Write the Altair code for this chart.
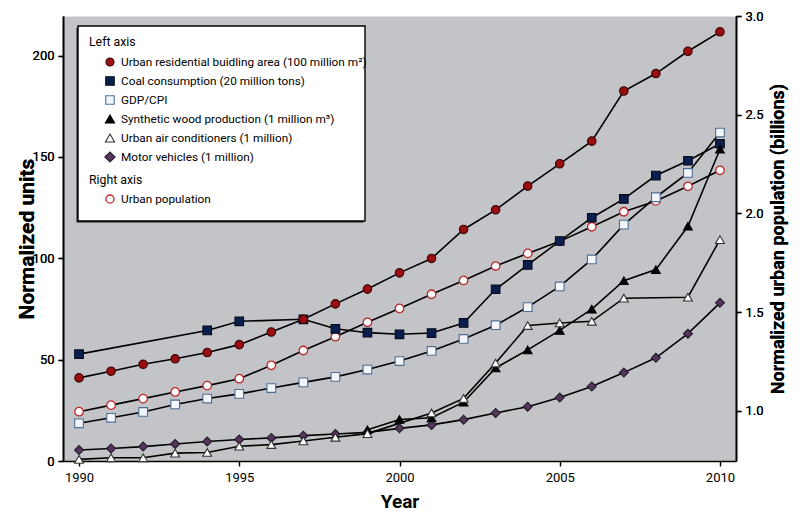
import altair as alt
import pandas as pd

# ---------------- data ----------------
years = list(range(1990, 2011))

building_area = [41.0, 44.3, 47.7, 50.4, 53.5, 57.4, 63.6, 69.9, 77.5, 84.8, 92.8,
                 99.9, 114.2, 123.9, 135.6, 146.6, 157.8, 182.5, 191.1, 202.1, 211.7]
coal = [52.7, None, None, None, 64.4, 68.9, None, 69.9, 65.2, 63.3, 62.5,
        63.1, 68.1, 84.7, 96.7, 108.5, 120.0, 129.3, 140.8, 148.1, 156.5]
gdp_cpi = [18.6, 21.3, 24.2, 27.9, 30.8, 33.1, 36.0, 38.8, 41.5, 45.1, 49.3,
           54.3, 60.2, 67.0, 75.9, 86.1, 99.4, 116.6, 130.1, 142.1, 162.0]
synthetic_wood = [None, None, None, None, None, None, None, None, None, 15.4, 20.5,
                  21.3, 29.0, 45.9, 54.8, 64.4, 74.9, 88.9, 94.4, 115.8, 153.8]
air_conditioners = [0.8, 1.6, 1.6, 3.9, 4.2, 7.3, 8.1, 9.9, 11.7, 13.5, None,
                    23.7, 30.9, 48.3, 66.8, 68.1, 68.9, 80.3, None, 80.8, 109.2]
motor_vehicles = [5.4, 6.2, 7.1, 8.4, 9.6, 10.6, 11.4, 12.5, 13.3, 14.1, 16.1,
                  17.8, 20.4, 23.7, 26.8, 31.3, 36.8, 43.6, 50.9, 62.8, 78.0]
urban_population = [0.995, 1.028, 1.061, 1.095, 1.127, 1.162, 1.230, 1.305, 1.375, 1.448, 1.518,
                    1.590, 1.660, 1.733, 1.797, 1.858, 1.932, 2.008, 2.063, 2.137, 2.218]

left_labels = [
    "Urban residential buidling area (100 million m\u00b2)",
    "Coal consumption (20 million tons)",
    "GDP/CPI",
    "Synthetic wood production (1 million m\u00b3)",
    "Urban air conditioners (1 million)",
    "Motor vehicles (1 million)",
]
right_label = "Urban population"
legend_headers = ["Left axis", "Right axis"]

left_ticks = [0, 50, 100, 150, 200]
right_ticks = [1.0, 1.5, 2.0, 2.5, 3.0]
x_ticks = [1990, 1995, 2000, 2005, 2010]

# ---------------- styles ----------------
FONT = "Roboto"
W, H = 673, 445

styles = {
    left_labels[0]: dict(shape="circle", fill="#9a0d12", stroke="#3b0406", size=72),
    left_labels[1]: dict(shape="square", fill="#0b1f4f", stroke="#050a1a", size=80),
    left_labels[2]: dict(shape="square", fill="#f2f6fb", stroke="#4f6f92", size=80),
    left_labels[3]: dict(shape="triangle-up", fill="#000000", stroke="#000000", size=95),
    left_labels[4]: dict(shape="triangle-up", fill="#ffffff", stroke="#333333", size=95),
    left_labels[5]: dict(shape="diamond", fill="#53365a", stroke="#26172a", size=115),
}
pop_style = dict(shape="circle", fill="#ffffff", stroke="#c3262d", size=72)

series_values = [building_area, coal, gdp_cpi, synthetic_wood, air_conditioners, motor_vehicles]
rows = []
for name, vals in zip(left_labels, series_values):
    for yr, v in zip(years, vals):
        if v is not None:
            rows.append({"year": yr, "value": v, "series": name})
left_df = pd.DataFrame(rows)

# draw order of the markers (later drawn on top)
point_order = [left_labels[1], left_labels[0], left_labels[5], left_labels[3], left_labels[4], left_labels[2]]
left_pts = pd.concat([left_df[left_df.series == s] for s in point_order], ignore_index=True)

right_df = pd.DataFrame({"year": years, "pop": urban_population})

x_enc = alt.X("year:Q", scale=alt.Scale(domain=[1989.5, 2010.5], nice=False, zero=False),
              axis=alt.Axis(values=x_ticks, format="d", title="Year", labelFlush=False,
                            titlePadding=8, labelPadding=5))

y_left_scale = alt.Scale(domain=[0, 219.5], nice=False)
y_left_axis = alt.Axis(orient="left", values=left_ticks, format="d", title="Normalized units",
                       titleX=-30, titleY=H / 2, titleAngle=270, titleBaseline="alphabetic",
                       titleFontSize=21)
y_right_scale = alt.Scale(domain=[0.745, 3.0], nice=False, zero=False)
y_right_axis = alt.Axis(orient="right", values=right_ticks, format=".1f",
                        title="Normalized urban population (billions)",
                        titleX=47, titleY=H / 2, titleAngle=270, titleBaseline="alphabetic",
                        titleFontSize=18)

left_lines = alt.Chart(left_df).mark_line(color="black", strokeWidth=1.6).encode(
    x=x_enc,
    y=alt.Y("value:Q", scale=y_left_scale, axis=y_left_axis),
    detail="series:N",
)

right_line = alt.Chart(right_df).mark_line(color="black", strokeWidth=1.6).encode(
    x=x_enc,
    y=alt.Y("pop:Q", scale=y_right_scale, axis=y_right_axis),
)
right_pts = alt.Chart(right_df).mark_point(
    filled=True, opacity=1, strokeWidth=1.3, **pop_style
).encode(
    x=x_enc,
    y=alt.Y("pop:Q", scale=y_right_scale, axis=y_right_axis),
)

left_points = alt.Chart(left_pts).mark_point(filled=True, opacity=1, strokeWidth=1.1).encode(
    x=x_enc,
    y=alt.Y("value:Q", scale=y_left_scale, axis=y_left_axis),
    shape=alt.Shape("series:N", scale=alt.Scale(domain=left_labels,
                    range=[styles[s]["shape"] for s in left_labels]), legend=None),
    fill=alt.Fill("series:N", scale=alt.Scale(domain=left_labels,
                  range=[styles[s]["fill"] for s in left_labels]), legend=None),
    stroke=alt.Stroke("series:N", scale=alt.Scale(domain=left_labels,
                      range=[styles[s]["stroke"] for s in left_labels]), legend=None),
    size=alt.Size("series:N", scale=alt.Scale(domain=left_labels,
                  range=[styles[s]["size"] for s in left_labels]), legend=None),
)

# ---------------- custom legend (pixel positions inside the plot area) ----------------
dummy = pd.DataFrame({"k": [0]})
legend_layers = []
box_x1, box_x2, box_y1, box_y2 = 15, 302, 10, 205
legend_layers.append(
    alt.Chart(dummy).mark_rect(fill="#222222").encode(
        x=alt.value(box_x1 - 1.5), x2=alt.value(box_x2 - 1.5),
        y=alt.value(box_y1 + 1.5), y2=alt.value(box_y2 + 1.5))
)
legend_layers.append(
    alt.Chart(dummy).mark_rect(fill="white", stroke="black", strokeWidth=1.4).encode(
        x=alt.value(box_x1), x2=alt.value(box_x2), y=alt.value(box_y1), y2=alt.value(box_y2))
)
row_y = [46, 65, 84, 103, 122, 141]
header_y = [26, 164]
pop_y = 183
LEG_FS = 11.8
for txt, yy in zip(legend_headers, header_y):
    legend_layers.append(
        alt.Chart(dummy).mark_text(text=txt, align="left", baseline="middle", font=FONT,
                                   fontSize=LEG_FS + 0.5, color="black").encode(
            x=alt.value(26), y=alt.value(yy)))
for lab, yy in zip(left_labels + [right_label], row_y + [pop_y]):
    st = styles.get(lab, pop_style)
    legend_layers.append(
        alt.Chart(dummy).mark_point(filled=True, opacity=1,
                                    strokeWidth=1.3 if lab == right_label else 1.1,
                                    shape=st["shape"], fill=st["fill"], stroke=st["stroke"],
                                    size=st["size"] * 0.9).encode(
            x=alt.value(47), y=alt.value(yy)))
    legend_layers.append(
        alt.Chart(dummy).mark_text(text=lab, align="left", baseline="middle", font=FONT,
                                   fontSize=LEG_FS, color="black").encode(
            x=alt.value(58), y=alt.value(yy)))

chart = alt.layer(left_lines, right_line, right_pts, left_points, *legend_layers).resolve_scale(
    y="independent"
).properties(
    width=W, height=H,
    autosize=alt.AutoSizeParams(type="none"),
    padding={"left": 55, "top": 8, "right": 56, "bottom": 53},
    background="white",
).configure_view(
    fill="#c2c4c7", stroke="transparent"
).configure_axis(
    grid=False,
    domainColor="black", domainWidth=1.6,
    tickColor="black", tickWidth=1.4, tickSize=5,
    labelFont=FONT, labelFontSize=13, labelColor="black", labelPadding=4,
    titleFont=FONT, titleFontSize=19, titleFontWeight="bold", titleColor="black",
)

chart.save("out.html", embed_options={"renderer": "svg", "actions": False})
